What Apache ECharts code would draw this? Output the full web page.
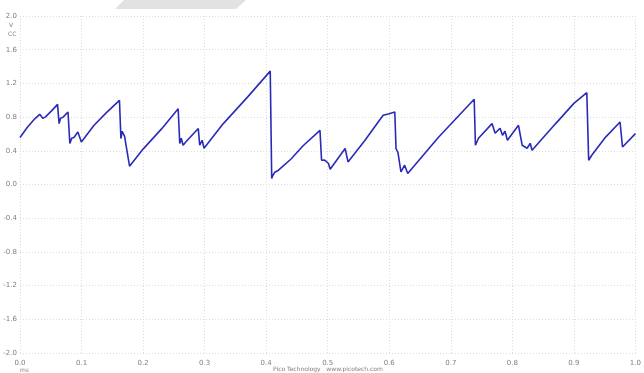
<!DOCTYPE html>
<html>
<head>
<meta charset="utf-8">
<script src="https://cdn.jsdelivr.net/npm/echarts@6/dist/echarts.min.js"></script>
<style>html,body{margin:0;padding:0;background:#fff;}#c{width:644px;height:373px;}</style>
</head>
<body>
<div id="c"></div>
<script>
// time (ms) and voltage (V)
var timeMs = [0.000,0.012,0.024,0.032,0.037,0.041,0.044,0.052,0.061,0.0635,0.066,0.070,0.078,0.081,0.084,0.088,0.094,0.097,0.0997,0.120,0.140,0.1616,0.164,0.166,0.170,0.172,0.178,0.200,0.230,0.257,0.2596,0.262,0.265,0.270,0.2897,0.292,0.296,0.299,0.330,0.370,0.4066,0.409,0.411,0.414,0.420,0.440,0.460,0.4874,0.490,0.495,0.501,0.504,0.5283,0.533,0.560,0.590,0.600,0.609,0.611,0.614,0.619,0.625,0.630,0.680,0.738,0.740,0.745,0.767,0.772,0.780,0.784,0.788,0.792,0.810,0.816,0.824,0.829,0.832,0.870,0.900,0.921,0.924,0.929,0.950,0.975,0.979,1.000];
var volts  = [0.557,0.680,0.780,0.833,0.786,0.800,0.821,0.880,0.951,0.723,0.786,0.800,0.860,0.486,0.549,0.560,0.623,0.560,0.505,0.700,0.850,0.999,0.545,0.632,0.572,0.480,0.217,0.420,0.660,0.900,0.486,0.549,0.466,0.510,0.664,0.466,0.525,0.430,0.720,1.040,1.346,0.071,0.110,0.146,0.170,0.300,0.460,0.643,0.288,0.290,0.252,0.181,0.427,0.268,0.520,0.821,0.840,0.860,0.427,0.383,0.149,0.229,0.130,0.560,1.011,0.466,0.549,0.723,0.608,0.667,0.584,0.632,0.525,0.703,0.466,0.430,0.489,0.406,0.720,0.963,1.090,0.288,0.347,0.550,0.742,0.445,0.604];
var xTicks = ['0.0','0.1','0.2','0.3','0.4','0.5','0.6','0.7','0.8','0.9','1.0'];

var chart = echarts.init(document.getElementById('c'));
var pts = timeMs.map(function(t,i){return [t, volts[i]];});
var gridLine = {show:true, lineStyle:{color:'#dcdcdc', type:[1,2], width:1}};
chart.setOption({
  animation:false,
  backgroundColor:'#ffffff',
  grid:{left:20, right:5, top:16, bottom:20},
  xAxis:{type:'value', min:0, max:1, interval:0.1,
    axisLine:{show:false}, axisTick:{show:false}, splitLine:gridLine,
    axisLabel:{fontSize:7, color:'#808080', fontFamily:'DejaVu Sans', margin:7,
      formatter:function(v){return v.toFixed(1);}}},
  yAxis:{type:'value', min:-2, max:2, interval:0.4,
    axisLine:{show:false}, axisTick:{show:false}, splitLine:gridLine,
    axisLabel:{fontSize:7, color:'#808080', fontFamily:'DejaVu Sans', margin:3,
      formatter:function(v){return v.toFixed(1);}}},
  graphic:[
    {type:'polygon', shape:{points:[[124,0],[246,0],[236,9],[115,9]]}, style:{fill:'#e2e2e2'}, z:-1},
    {type:'text', left:9, top:22, style:{text:'V', fontSize:6, fill:'#808080', fontFamily:'DejaVu Sans'}},
    {type:'text', left:8, top:31, style:{text:'CC', fontSize:6, fill:'#808080', fontFamily:'DejaVu Sans'}},
    {type:'text', left:20, top:367, style:{text:'ms', fontSize:6, fill:'#808080', fontFamily:'DejaVu Sans'}},
    {type:'text', left:273, top:366, style:{text:'Pico Technology   www.picotech.com', fontSize:6, fill:'#808080', fontFamily:'DejaVu Sans'}}
  ],
  series:[{type:'line', data:pts, showSymbol:false, symbol:'none',
    lineStyle:{color:'#2a2ab8', width:1.6}}]
});
</script>
</body>
</html>
